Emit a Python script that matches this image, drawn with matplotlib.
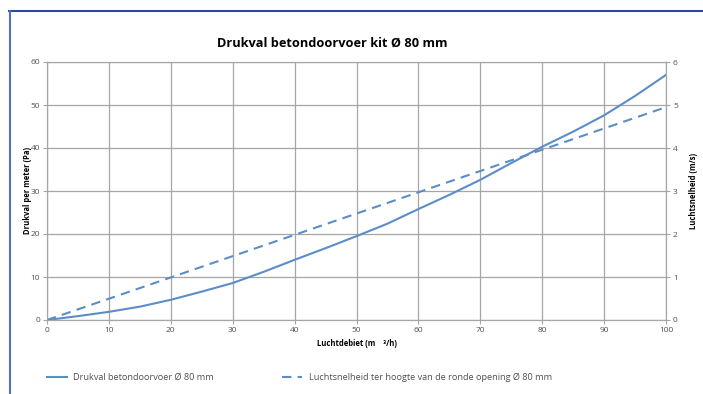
import numpy as np
from matplotlib import pyplot as plt
from matplotlib.lines import Line2D

plt.rcParams['font.family'] = ['Open Sans', 'DejaVu Sans']

# data
debiet = [0, 5, 10, 15, 20, 25, 30, 35, 40, 45, 50, 55, 60, 65, 70, 75, 80, 85, 90, 95, 100]
drukval = [0, 0.9, 1.9, 3.1, 4.7, 6.6, 8.6, 11.2, 14.0, 16.7, 19.5, 22.4, 25.8, 29.1, 32.6, 36.5, 40.3, 43.8, 47.6, 52.1, 57.0]
snelheid_x = [0, 100]
snelheid = [0, 4.95]
xticks = [0, 10, 20, 30, 40, 50, 60, 70, 80, 90, 100]

blue = '#5b8dc8'
grid = '#a6a6a6'
txt = '#505050'

fig = plt.figure(figsize=(7.03, 3.94), dpi=100)

# frame lines
fig.add_artist(Line2D([9/703, 1], [1-11/394, 1-11/394], color='#2a4a9c', lw=1.5))
fig.add_artist(Line2D([10/703, 10/703], [0, 1-11/394], color='#4a74c0', lw=1.5))

ax = fig.add_axes([47/703, 1-320/394, (666-47)/703, (320-62)/394])
ax.plot(debiet, drukval, color=blue, lw=1.5)
ax.set_xlim(0, 100)
ax.set_ylim(0, 60)
ax.set_xticks(xticks)
ax.set_yticks(range(0, 61, 10))
ax.grid(True, color=grid, lw=0.9)
for s in ax.spines.values():
    s.set_color(grid)
ax.tick_params(colors=grid, labelcolor=txt, labelsize=6, length=3, width=0.8, pad=2)
ax.set_ylabel('Drukval per meter (Pa)', fontsize=5.5, fontweight='bold', color='black', labelpad=-1)
ax.set_xlabel('Luchtdebiet (m    ³/h)', fontsize=5.5, fontweight='bold', color='black', labelpad=4)

ax2 = ax.twinx()
ax2.plot(snelheid_x, snelheid, color=blue, lw=1.5, ls=(0, (4.5, 3)))
ax2.set_ylim(0, 6)
ax2.set_yticks(range(0, 7))
for s in ax2.spines.values():
    s.set_color(grid)
ax2.tick_params(colors=grid, labelcolor=txt, labelsize=6, length=3, width=0.8, pad=2)
ax2.set_ylabel('Luchtsnelheid (m/s)', fontsize=5.5, fontweight='bold', color='black', labelpad=8)

fig.text(332/703, 1-43/394, 'Drukval betondoorvoer kit Ø 80 mm', ha='center', va='center',
         fontsize=9.2, fontweight='bold')

# legend
ly = 1 - 377/394
fig.add_artist(Line2D([47/703, 67/703], [ly]*2, color=blue, lw=1.5))
fig.text(73/703, ly, 'Drukval betondoorvoer Ø 80 mm', fontsize=6.6, color=txt, va='center')
fig.add_artist(Line2D([282/703, 302/703], [ly]*2, color=blue, lw=1.5, ls=(0, (4.5, 3))))
fig.text(309/703, ly, 'Luchtsnelheid ter hoogte van de ronde opening Ø 80 mm', fontsize=6.6, color=txt, va='center')

plt.savefig('out.png', dpi=100)
